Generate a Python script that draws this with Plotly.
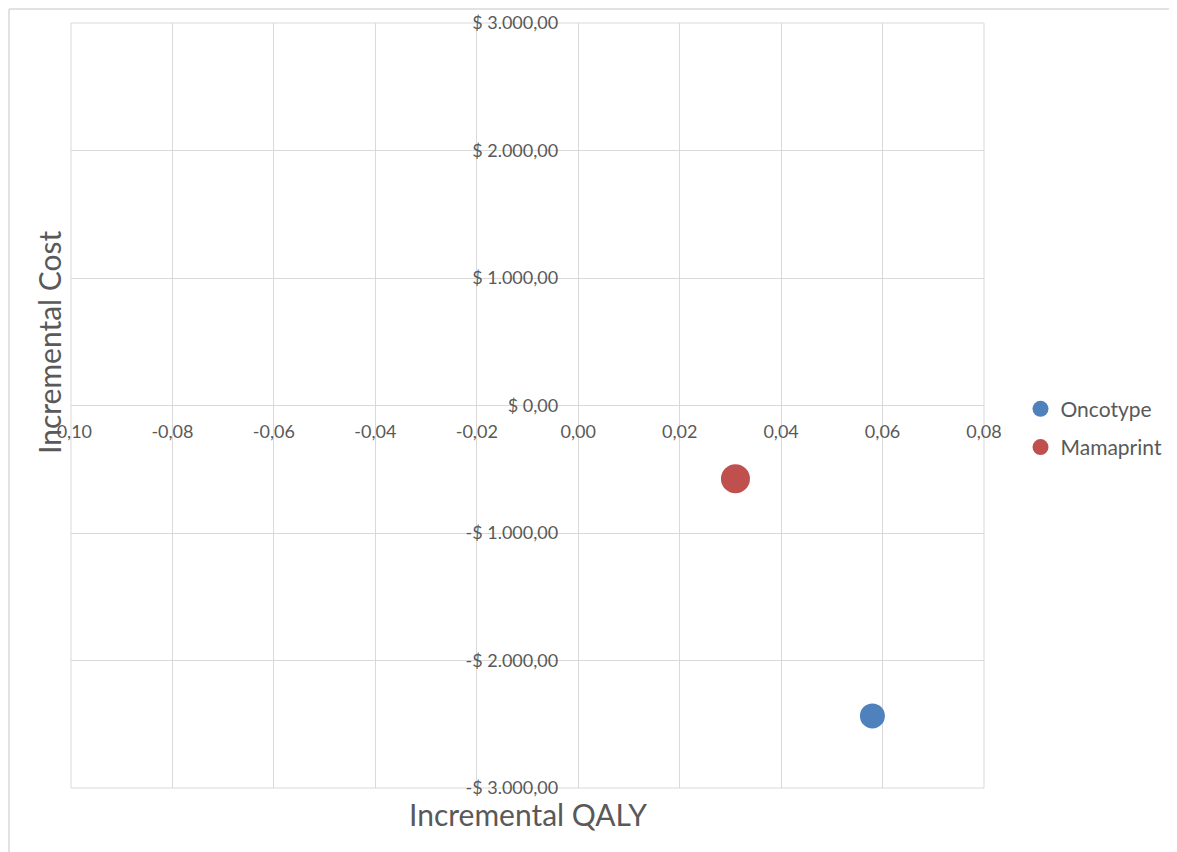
import plotly.graph_objects as go

# Data
series_names = ["Oncotype", "Mamaprint"]
incr_qaly = [0.058, 0.031]
incr_cost = [-2435, -575]
bubble_size = [25, 29]
colors = ["#4F81BD", "#C0504D"]

x_tickvals = [-0.10, -0.08, -0.06, -0.04, -0.02, 0.00, 0.02, 0.04, 0.06, 0.08]
x_ticktext = ["-0,10", "-0,08", "-0,06", "-0,04", "-0,02", "0,00", "0,02", "0,04", "0,06", "0,08"]
y_tickvals = [-3000, -2000, -1000, 0, 1000, 2000, 3000]
y_ticktext = ["-$ 3.000,00", "-$ 2.000,00", "-$ 1.000,00", "$ 0,00",
              "$ 1.000,00", "$ 2.000,00", "$ 3.000,00"]

x_range = [-0.10, 0.08]
y_range = [-3000, 3000]

FONT = "Lato, Carlito, Calibri, sans-serif"
TXT = "#595959"
GRID = "#D9D9D9"

fig = go.Figure()
for i, name in enumerate(series_names):
    fig.add_trace(go.Scatter(
        x=[incr_qaly[i]], y=[incr_cost[i]], mode="markers", name=name,
        legendgroup=name,
        marker=dict(size=bubble_size[i], color=colors[i], line=dict(width=0)),
    ))

xpos = (0 - x_range[0]) / (x_range[1] - x_range[0])
ypos = (0 - y_range[0]) / (y_range[1] - y_range[0])

# outer chart border (screen px relative to plot area at x=71, y=23..788)
bx = (9 - 71) / 913
by = (788 - 9) / 765

fig.update_layout(
    width=1169, height=844,
    margin=dict(l=63, r=193, t=15, b=64, autoexpand=False),
    paper_bgcolor="white", plot_bgcolor="white",
    font=dict(family=FONT, color=TXT, size=18),
    showlegend=True,
    legend=dict(x=1.040, y=0.522, xanchor="left", yanchor="top",
                font=dict(size=21, color=TXT), tracegroupgap=8,
                bgcolor="rgba(0,0,0,0)"),
    xaxis=dict(range=x_range, tickvals=x_tickvals, ticktext=x_ticktext,
               showgrid=True, gridcolor=GRID, gridwidth=1, zeroline=False,
               anchor="free", position=ypos, showline=False, automargin=False,
               ticks="", ticklabelstandoff=13,
               tickfont=dict(size=18, color=TXT, family=FONT)),
    yaxis=dict(range=y_range, tickvals=y_tickvals, ticktext=y_ticktext,
               showgrid=True, gridcolor=GRID, gridwidth=1, zeroline=False,
               anchor="free", position=xpos, showline=False, automargin=False,
               ticks="", ticklabelstandoff=20,
               tickfont=dict(size=18, color=TXT, family=FONT)),
    shapes=[
        dict(type="rect", xref="paper", yref="paper", x0=0, x1=1, y0=0, y1=1,
             line=dict(color=GRID, width=1), layer="below"),
        dict(type="line", xref="paper", yref="paper",
             x0=bx, x1=(1300 - 71) / 913, y0=by, y1=by,
             line=dict(color=GRID, width=1.5)),
        dict(type="line", xref="paper", yref="paper",
             x0=bx, x1=bx, y0=by, y1=(788 - 900) / 765,
             line=dict(color=GRID, width=1.5)),
    ],
    annotations=[
        dict(text="Incremental QALY", xref="paper", yref="paper",
             x=0.5, y=(788 - 814) / 765, xanchor="center", yanchor="middle",
             showarrow=False, font=dict(size=30, color=TXT, family=FONT)),
        dict(text="Incremental Cost", xref="paper", yref="paper",
             x=(49 - 71) / 913, y=(788 - 342) / 765, xanchor="center", yanchor="middle",
             textangle=-90, showarrow=False, font=dict(size=30, color=TXT, family=FONT)),
    ],
)

fig.write_html("out.html")
